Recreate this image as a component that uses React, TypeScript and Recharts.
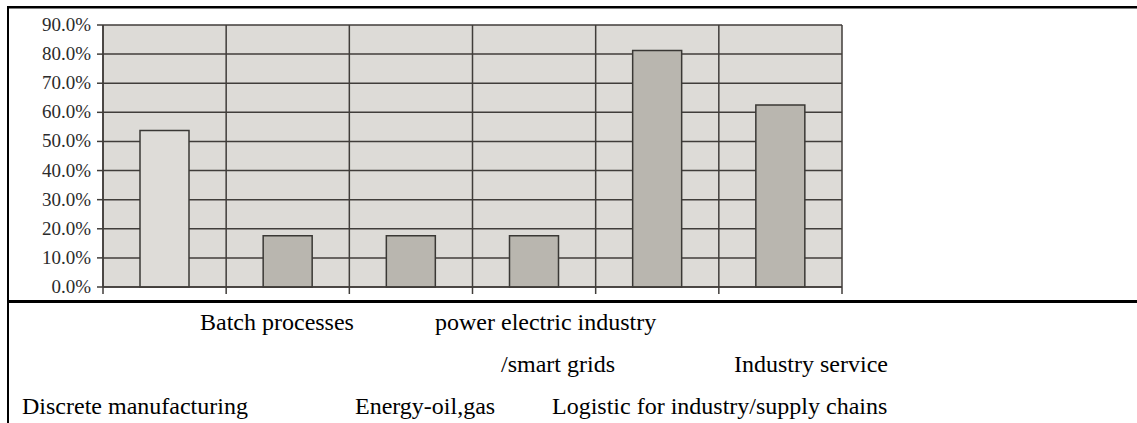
import React from "react";
import { BarChart, Bar, XAxis, YAxis, CartesianGrid, Cell } from "recharts";

const categories = [
  "Discrete manufacturing",
  "Batch processes",
  "Energy-oil,gas",
  "power electric industry/smart grids",
  "Logistic for industry/supply chains",
  "Industry service",
];
const shares = [53.8, 17.6, 17.6, 17.6, 81.2, 62.5];
const barFills = ["#dedcd8", "#b9b6af", "#b9b6af", "#b9b6af", "#b9b6af", "#b9b6af"];
const yTicks = [0, 10, 20, 30, 40, 50, 60, 70, 80, 90];

// label text lines below the chart (as laid out in the source)
const labelLines = [
  { text: "Batch processes", x: 200, y: 330 },
  { text: "power electric industry", x: 435, y: 330 },
  { text: "/smart grids", x: 501, y: 372 },
  { text: "Industry service", x: 734, y: 372 },
  { text: "Discrete manufacturing", x: 22, y: 414 },
  { text: "Energy-oil,gas", x: 355, y: 414 },
  { text: "Logistic for industry/supply chains", x: 552, y: 414 },
];

const data = categories.map((name, i) => ({ name, value: shares[i] }));

const LINE = "#403d3a";

function BoundaryTick(props: any) {
  const { x, y, payload, index } = props;
  const half = payload && payload.offset ? payload.offset : 0;
  const last = index === categories.length - 1;
  return (
    <g>
      <line x1={x - half} x2={x - half} y1={y} y2={y + 7} stroke={LINE} strokeWidth={1.5} />
      {last ? (
        <line x1={x + half} x2={x + half} y1={y} y2={y + 7} stroke={LINE} strokeWidth={1.5} />
      ) : null}
    </g>
  );
}

function YTick(props: any) {
  const { x, y, payload } = props;
  return (
    <text
      x={x}
      y={y}
      dy={6}
      textAnchor="end"
      fontFamily="'Liberation Serif', 'Times New Roman', serif"
      fontSize={19}
      fill="#2b2b2b"
    >
      {Number(payload.value).toFixed(1) + "%"}
    </text>
  );
}

export default function App() {
  return (
    <div
      style={{
        position: "absolute",
        left: 0,
        top: 0,
        width: 1137,
        height: 423,
        overflow: "hidden",
        background: "#ffffff",
      }}
    >
      <BarChart
        width={1137}
        height={423}
        data={data}
        margin={{ top: 25, right: 295, bottom: 126, left: 0 }}
      >
        <CartesianGrid
          stroke={LINE}
          strokeWidth={1.5}
          fill="#dddbd7"
          fillOpacity={1}
          verticalCoordinatesGenerator={(p: any) => {
            const o = p.offset;
            return categories
              .map((_, i) => o.left + (i * o.width) / categories.length)
              .concat([o.left + o.width]);
          }}
        />
        <XAxis
          dataKey="name"
          type="category"
          interval={0}
          height={10}
          tickSize={0}
          tickMargin={0}
          tickLine={false}
          tick={<BoundaryTick />}
          axisLine={{ stroke: LINE, strokeWidth: 1.5 }}
        />
        <YAxis
          width={103}
          domain={[0, 90]}
          ticks={yTicks}
          interval={0}
          tickSize={6}
          tickMargin={6}
          tick={<YTick />}
          axisLine={{ stroke: LINE, strokeWidth: 1.5 }}
          tickLine={{ stroke: LINE, strokeWidth: 1.5 }}
        />
        <Bar
          dataKey="value"
          barSize={49}
          stroke="#3a3835"
          strokeWidth={1.5}
          isAnimationActive={false}
        >
          {data.map((d, i) => (
            <Cell key={d.name} fill={barFills[i]} />
          ))}
        </Bar>
      </BarChart>
      <svg
        width={1137}
        height={423}
        style={{ position: "absolute", left: 0, top: 0, pointerEvents: "none" }}
      >
        <rect x={7} y={6} width={1130} height={2.5} fill="#000" />
        <rect x={7} y={6} width={2} height={417} fill="#000" />
        <rect x={7} y={300} width={1130} height={3} fill="#000" />
        {labelLines.map((l) => (
          <text
            key={l.text}
            x={l.x}
            y={l.y}
            fontFamily="'Liberation Serif', 'Times New Roman', serif"
            fontSize={24}
            fill="#000"
          >
            {l.text}
          </text>
        ))}
      </svg>
    </div>
  );
}
